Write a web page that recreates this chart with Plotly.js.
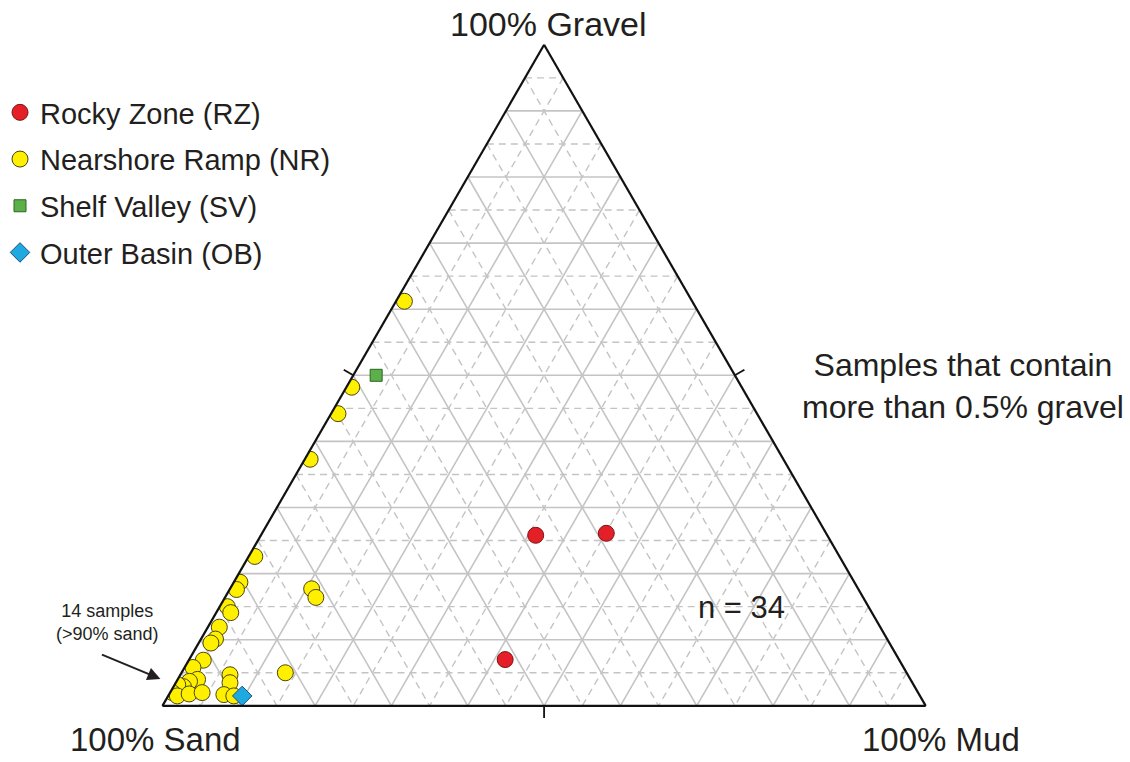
<!DOCTYPE html>
<html>
<head>
<meta charset="utf-8">
<script src="https://cdn.plot.ly/plotly-3.0.1.min.js"></script>
<style>
  html, body { margin: 0; padding: 0; background: #fff; }
  #chart { width: 1130px; height: 762px; }
</style>
</head>
<body>
<div id="chart"></div>
<script>
// Grain-size composition (%) of samples with more than 0.5% gravel.
// gravel = top vertex, sand = bottom-left, mud = bottom-right.

const rzGravel = [25.8, 26.1, 7.0];
const rzMud    = [36.0, 45.1, 41.4];

const nrGravel = [61.2, 48.2, 44.2, 37.3, 22.6, 18.7, 17.6, 15.0, 14.1, 11.9,
                  10.1, 9.5, 17.7, 16.4, 5.0, 6.9, 5.8, 4.0, 3.7, 2.9,
                  3.2, 2.0, 1.5, 1.8, 2.0, 4.7, 3.5, 1.7, 1.5];
const nrMud    = [1.1, 0.7, 0.9, 0.7, 0.8, 0.8, 0.9, 1.0, 1.9, 1.5,
                  1.9, 1.6, 10.7, 11.9, 13.6, 1.9, 1.1, 2.6, 1.7, 1.3,
                  0.4, 0.3, 1.2, 2.6, 4.2, 6.5, 7.1, 7.2, 8.6];

const svGravel = [50.0];
const svMud    = [3.0];

const obGravel = [1.5];
const obMud    = [9.7];

const sandOf = (g, m) => g.map((v, i) => +(100 - v - m[i]).toFixed(1));

const W = 1130, H = 762;
const px = x => x / W;
const py = y => 1 - y / H;

// Triangle placement on the page (pixels)
const triLeft = 159, triRight = 925, triBase = 707;
const triH = (triRight - triLeft) * Math.sqrt(3) / 2;
const triTop = triBase - triH;
const triApexX = (triLeft + triRight) / 2;

// Grid lines: solid every 10%, dashed at the 5% midpoints, in all three directions
function gridLines(levels) {
  const a = [], b = [], c = [];
  levels.forEach(k => {
    // constant gravel
    a.push(k, k, null); b.push(100 - k, 0, null); c.push(0, 100 - k, null);
    // constant sand
    b.push(k, k, null); a.push(100 - k, 0, null); c.push(0, 100 - k, null);
    // constant mud
    c.push(k, k, null); a.push(100 - k, 0, null); b.push(0, 100 - k, null);
  });
  return { a, b, c };
}
const solidLevels = [10, 20, 30, 40, 50, 60, 70, 80, 90];
const dashLevels  = [5, 15, 25, 35, 45, 55, 65, 75, 85, 95];
const gSolid = gridLines(solidLevels);
const gDash  = gridLines(dashLevels);

const traces = [
  {
    type: 'scatterternary', mode: 'lines',
    a: gDash.a, b: gDash.b, c: gDash.c,
    line: { color: '#c4c4c4', width: 1.4, dash: '7px,5px' },
    connectgaps: false, hoverinfo: 'skip', showlegend: false
  },
  {
    type: 'scatterternary', mode: 'lines',
    a: gSolid.a, b: gSolid.b, c: gSolid.c,
    line: { color: '#c4c4c4', width: 1.6 },
    connectgaps: false, hoverinfo: 'skip', showlegend: false
  },
  {
    type: 'scatterternary', mode: 'markers', name: 'Rocky Zone (RZ)',
    legendgroup: 'rz',
    a: rzGravel, b: sandOf(rzGravel, rzMud), c: rzMud,
    marker: { symbol: 'circle', size: 16, color: '#e41f27', line: { color: '#7a1414', width: 1 } }
  },
  {
    type: 'scatterternary', mode: 'markers', name: 'Nearshore Ramp (NR)',
    legendgroup: 'nr',
    a: nrGravel, b: sandOf(nrGravel, nrMud), c: nrMud,
    marker: { symbol: 'circle', size: 16, color: '#fff000', line: { color: '#4a4410', width: 1 } }
  },
  {
    type: 'scatterternary', mode: 'markers', name: 'Shelf Valley (SV)',
    legendgroup: 'sv',
    a: svGravel, b: sandOf(svGravel, svMud), c: svMud,
    marker: { symbol: 'square', size: 12, color: '#5cb04a', line: { color: '#2b6424', width: 1 } }
  },
  {
    type: 'scatterternary', mode: 'markers', name: 'Outer Basin (OB)',
    legendgroup: 'ob',
    a: obGravel, b: sandOf(obGravel, obMud), c: obMud,
    marker: { symbol: 'diamond', size: 15, color: '#1fa9e1', line: { color: '#1a4f78', width: 1 } }
  }
];

const axisCommon = {
  min: 0,
  showgrid: false,
  showline: true,
  linecolor: '#111',
  linewidth: 2.2,
  ticks: '',
  showticklabels: false,
  title: { text: '' }
};

// 50% tick marks, perpendicular to each side, pointing outward
const tickLen = 11;
const edges = [
  [[triLeft, triBase], [triApexX, triTop]],   // sand-gravel side
  [[triApexX, triTop], [triRight, triBase]],  // gravel-mud side
  [[triRight, triBase], [triLeft, triBase]]   // mud-sand side
];
const cx = triApexX, cy = triBase - triH / 3;
const tickShapes = edges.map(([p, q]) => {
  const mx = (p[0] + q[0]) / 2, my = (p[1] + q[1]) / 2;
  let nx = -(q[1] - p[1]), ny = q[0] - p[0];
  const len = Math.hypot(nx, ny);
  nx /= len; ny /= len;
  if ((mx - cx) * nx + (my - cy) * ny < 0) { nx = -nx; ny = -ny; }
  return {
    type: 'line', xref: 'paper', yref: 'paper',
    x0: px(mx), y0: py(my), x1: px(mx + nx * tickLen), y1: py(my + ny * tickLen),
    line: { color: '#111', width: 1.8 }
  };
});

const labelFont = { family: 'Liberation Sans, Arial, sans-serif', color: '#231f20' };
const note = (text, x, y, size, extra) => Object.assign({
  text, x: px(x), y: py(y), xref: 'paper', yref: 'paper',
  xanchor: 'center', yanchor: 'middle', showarrow: false, align: 'center',
  font: Object.assign({ size }, labelFont)
}, extra || {});

const layout = {
  width: W, height: H,
  margin: { l: 0, r: 0, t: 0, b: 0 },
  paper_bgcolor: '#fff',
  showlegend: true,
  legend: {
    x: px(-4), y: py(87), xanchor: 'left', yanchor: 'top',
    font: { family: 'Liberation Sans, Arial, sans-serif', size: 29, color: '#231f20' },
    tracegroupgap: 6,
    traceorder: 'grouped',
    bgcolor: 'rgba(0,0,0,0)'
  },
  ternary: {
    sum: 100,
    domain: { x: [px(triLeft), px(triRight)], y: [py(triBase), py(triTop)] },
    bgcolor: 'rgba(0,0,0,0)',
    aaxis: Object.assign({}, axisCommon),
    baxis: Object.assign({}, axisCommon),
    caxis: Object.assign({}, axisCommon)
  },
  shapes: tickShapes,
  annotations: [
    note('100% Gravel', 546, 24, 34),
    note('100% Sand', 152, 739, 33),
    note('100% Mud', 940, 739, 33),
    note('Samples that contain<br>more than 0.5% gravel', 962, 386, 32),
    note('n = 34', 740, 607, 31),
    note('14 samples<br>(>90% sand)', 104, 622, 18),
    { text: '', x: px(157), y: py(679), xref: 'paper', yref: 'paper',
      showarrow: true, ax: -60, ay: -25, arrowhead: 2, arrowsize: 1.3,
      arrowwidth: 2, arrowcolor: '#231f20' }
  ]
};

Plotly.newPlot('chart', traces, layout, { displayModeBar: false, staticPlot: true });
</script>
</body>
</html>
